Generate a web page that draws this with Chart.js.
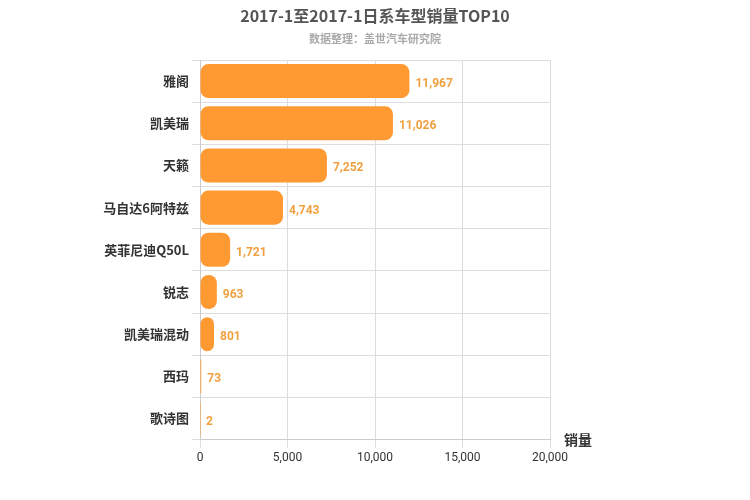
<!DOCTYPE html>
<html><head><meta charset="utf-8">
<script src="https://cdn.jsdelivr.net/npm/chart.js@4"></script>
<style>body{margin:0;background:#fff}#w{width:750px;height:500px}</style>
</head><body><div id="w"><canvas id="c"></canvas></div>
<script>
const categories=["雅阁","凯美瑞","天籁","马自达6阿特兹","英菲尼迪Q50L","锐志","凯美瑞混动","西玛","歌诗图"];
const sales=[11967,11026,7252,4743,1721,963,801,73,2];
const xTicks=[0,5000,10000,15000,20000];
const titleText='2017-1至2017-1日系车型销量TOP10';
const subtitleText='数据整理：盖世汽车研究院';
const fmt=v=>v.toLocaleString('en-US');
const labelPlugin={id:'lbl',afterDatasetsDraw(ch){
 const ctx=ch.ctx,meta=ch.getDatasetMeta(0);
 ctx.save();ctx.font='bold 12px Roboto';ctx.fillStyle='#F0A040';ctx.textBaseline='middle';
 meta.data.forEach((b,i)=>ctx.fillText(fmt(sales[i]),b.x+6,b.y+3));
 const a=ch.chartArea;ctx.fillStyle='#333';ctx.font='bold 14px "Noto Sans CJK SC"';
 ctx.fillText('销量',a.right+14,a.bottom);
 ctx.textAlign='center';ctx.fillStyle='#555';ctx.font='bold 16px "Noto Sans CJK SC"';
 ctx.fillText(titleText,375,16);
 ctx.fillStyle='#aaa';ctx.font='bold 11px "Noto Sans CJK SC"';
 ctx.fillText(subtitleText,375,39);
 ctx.restore();}};
new Chart(document.getElementById('c'),{type:'bar',
 data:{labels:categories,datasets:[{data:sales,backgroundColor:'#FF9A33',borderRadius:8,borderSkipped:false,barPercentage:0.85,categoryPercentage:0.95}]},
 options:{indexAxis:'y',responsive:true,maintainAspectRatio:false,animation:false,
  layout:{padding:{left:10,right:200,top:60,bottom:32}},
  plugins:{legend:{display:false},tooltip:{enabled:false},title:{display:false}},
  scales:{x:{min:0,max:20000,afterBuildTicks(s){s.ticks=xTicks.map(v=>({value:v}));},
    ticks:{color:'#333',font:{size:12,family:'Roboto'},callback:v=>fmt(v)},grid:{color:'#ddd'},border:{color:'#ccc'}},
   y:{afterFit(s){s.width=190;},ticks:{color:'#333',font:{size:13,weight:'bold',family:'"Noto Sans CJK SC"'}},grid:{color:'#ddd'},border:{color:'#ccc'}}}},
 plugins:[labelPlugin]});
</script></body></html>
